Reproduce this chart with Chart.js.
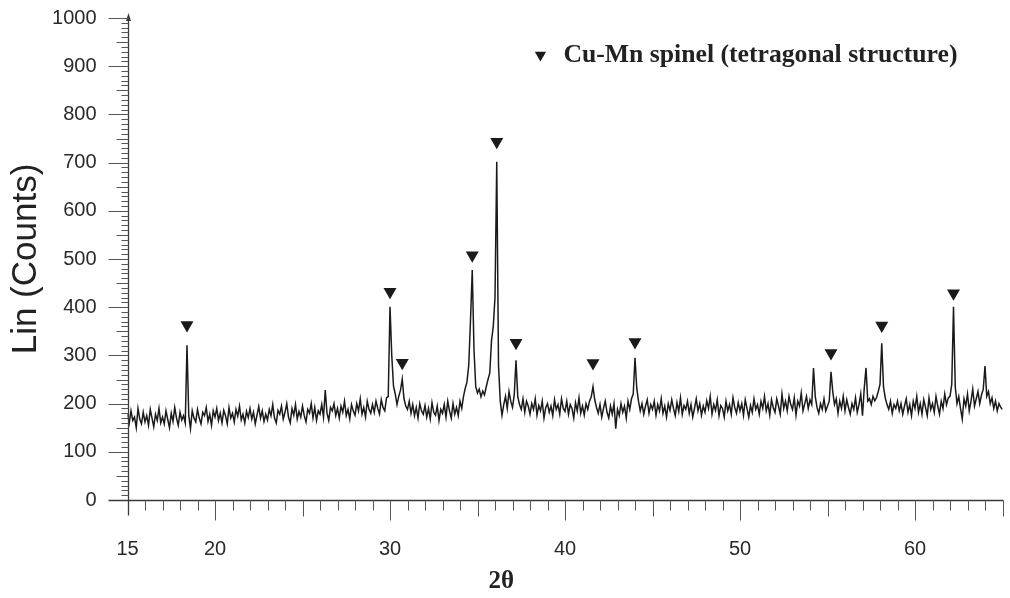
<!DOCTYPE html>
<html>
<head>
<meta charset="utf-8">
<title>XRD pattern</title>
<script src="https://cdn.jsdelivr.net/npm/chart.js@4.4.1/dist/chart.umd.min.js"></script>
<style>
  html, body { margin: 0; padding: 0; background: #fff; }
  #wrap { width: 1010px; height: 598px; }
</style>
</head>
<body>
<div id="wrap"><canvas id="xrd-chart" width="1010" height="598"></canvas></div>
<script>
// 2-theta sampling of the scan (degrees)
var thetaStart = 15;
var thetaStep = 0.1;
var xRange = [15, 65];
var yRange = [0, 1000];
var xTickLabels = [15, 20, 30, 40, 50, 60];

// Lin (Counts), one row per degree
var counts = [
    178, 160, 185, 165, 172, 150, 190, 168, 158, 182,   // 15
    162, 175, 155, 188, 170, 152, 178, 165, 190, 160,   // 16
    172, 158, 185, 167, 150, 180, 163, 192, 170, 155,   // 17
    182, 166, 175, 160, 321, 176, 148, 185, 170, 162,   // 18
    188, 170, 158, 182, 175, 192, 163, 178, 155, 185,   // 19
    172, 190, 165, 180, 160, 186, 175, 158, 192, 170,   // 20
    180, 162, 188, 174, 195, 166, 178, 160, 184, 171,   // 21
    190, 168, 182, 158, 176, 194, 170, 185, 163, 178,   // 22
    166, 188, 175, 198, 170, 160, 186, 178, 195, 168,   // 23
    182, 200, 172, 160, 190, 176, 198, 168, 184, 172,   // 24
    195, 175, 162, 188, 180, 200, 170, 192, 165, 185,   // 25
    178, 198, 172, 228, 180, 165, 192, 185, 200, 175,   // 26
    190, 170, 195, 182, 205, 175, 188, 168, 198, 185,   // 27
    176, 200, 185, 210, 178, 192, 172, 205, 188, 180,   // 28
    198, 182, 205, 190, 178, 208, 192, 185, 212, 215,   // 29
    401, 300, 236, 220, 198, 215, 228, 251, 210, 195,   // 30
    188, 205, 180, 198, 175, 192, 170, 200, 185, 178,   // 31
    196, 172, 190, 168, 202, 182, 176, 195, 165, 188,   // 32
    180, 198, 172, 205, 185, 170, 200, 178, 192, 175,   // 33
    205, 190, 215, 232, 245, 280, 373, 477, 311, 235,   // 34
    222, 230, 214, 226, 218, 235, 250, 263, 330, 360,   // 35
    420, 702, 280, 205, 176, 198, 215, 190, 225, 205,   // 36
    192, 218, 290, 215, 198, 188, 210, 182, 205, 195,   // 37
    178, 200, 188, 210, 176, 196, 185, 205, 170, 192,   // 38
    200, 182, 195, 175, 208, 188, 198, 178, 210, 190,   // 39
    184, 205, 178, 198, 190, 170, 202, 185, 212, 180,   // 40
    195, 176, 200, 188, 205, 214, 235, 208, 192, 180,   // 41
    198, 172, 190, 205, 182, 170, 195, 178, 200, 148,   // 42
    188, 175, 200, 182, 195, 170, 205, 188, 210, 220,   // 43
    295, 232, 205, 185, 200, 178, 195, 208, 180, 198,   // 44
    188, 205, 176, 198, 185, 210, 180, 195, 172, 200,   // 45
    186, 208, 190, 175, 202, 184, 212, 178, 196, 188,   // 46
    205, 180, 198, 172, 190, 210, 185, 200, 176, 195,   // 47
    182, 206, 190, 215, 178, 198, 186, 208, 175, 196,   // 48
    190, 172, 205, 185, 198, 178, 212, 192, 180, 202,   // 49
    185, 200, 176, 208, 190, 172, 196, 182, 210, 188,   // 50
    198, 178, 205, 190, 215, 185, 200, 176, 208, 192,   // 51
    182, 210, 195, 178, 220, 190, 205, 185, 215, 198,   // 52
    188, 212, 176, 205, 195, 222, 185, 200, 215, 190,   // 53
    208, 198, 274, 215, 192, 180, 200, 188, 210, 185,   // 54
    195, 205, 266, 225, 198, 210, 180, 205, 190, 215,   // 55
    185, 208, 192, 178, 200, 188, 212, 182, 198, 220,   // 56
    175, 232, 274, 205, 210, 198, 215, 206, 212, 225,   // 57
    240, 325, 235, 212, 198, 188, 205, 180, 198, 190,   // 58
    205, 185, 200, 178, 195, 210, 182, 198, 175, 205,   // 59
    190, 215, 182, 200, 178, 208, 192, 175, 212, 188,   // 60
    200, 182, 215, 195, 178, 205, 190, 220, 198, 212,   // 61
    215, 240, 401, 235, 200, 215, 190, 168, 210, 195,   // 62
    220, 185, 205, 230, 195, 210, 225, 200, 218, 230,   // 63
    278, 215, 225, 200, 212, 190, 205, 185, 200, 192,   // 64
    188                                                 // 65
];

// Cu-Mn spinel reflections: marker position (2θ) and marker height (counts)
var peakTheta = [18.4, 30.0, 30.7, 34.7, 36.1, 37.2, 41.6, 44.0, 55.2, 58.1, 62.2];
var peakMarkY = [363, 432, 285, 508, 743, 326, 284, 328, 305, 362, 429];

var phaseLabel = 'Cu-Mn spinel (tetragonal structure)';
var xTitle = '2θ';
var yTitle = 'Lin (Counts)';

var INK = '#1a1a1a';
var AXIS = '#3a3a3a';
var SANS = '"Liberation Sans", Arial, sans-serif';
var SERIF = '"Liberation Serif", "Times New Roman", serif';

var scanPoints = counts.map(function (c, i) {
    return { x: +(thetaStart + i * thetaStep).toFixed(1), y: c };
});
var markerPoints = peakTheta.map(function (t, i) { return { x: t, y: peakMarkY[i] }; });

// axis lines, arrow and the dense tick marks of the diffractometer plot
var axisDecor = {
    id: 'axisDecor',
    afterDatasetsDraw: function (chart) {
        var ctx = chart.ctx, xs = chart.scales.x, ys = chart.scales.y;
        var x0 = Math.round(xs.getPixelForValue(xRange[0])) + 0.5;
        var y0 = Math.round(ys.getPixelForValue(yRange[0])) + 0.5;
        var yTop = ys.getPixelForValue(yRange[1]);
        ctx.save();
        ctx.strokeStyle = AXIS;
        ctx.lineWidth = 1.3;
        ctx.beginPath();
        ctx.moveTo(x0 - 20, y0); ctx.lineTo(xs.right + 1, y0);
        ctx.moveTo(x0, y0 + 15); ctx.lineTo(x0, yTop - 2);
        ctx.stroke();
        ctx.fillStyle = AXIS;
        ctx.beginPath();
        ctx.moveTo(x0, yTop - 5); ctx.lineTo(x0 - 2.5, yTop + 3); ctx.lineTo(x0 + 2.5, yTop + 3);
        ctx.closePath(); ctx.fill();

        ctx.lineWidth = 1;
        ctx.strokeStyle = '#555';
        ctx.beginPath();
        for (var t = xRange[0] + 1; t <= xRange[1]; t++) {
            var len = t % 10 === 0 ? 20 : (t % 5 === 0 ? 16 : 10);
            var px = Math.round(xs.getPixelForValue(t)) + 0.5;
            ctx.moveTo(px, y0); ctx.lineTo(px, y0 + len);
        }
        for (var v = yRange[0] + 10; v <= yRange[1]; v += 10) {
            var l = v % 100 === 0 ? 20 : (v % 50 === 0 ? 12 : 7);
            var py = Math.round(ys.getPixelForValue(v)) + 0.5;
            ctx.moveTo(x0 - l, py); ctx.lineTo(x0, py);
        }
        ctx.stroke();
        ctx.restore();
    }
};

// phase key in the upper right of the plot
var phaseKey = {
    id: 'phaseKey',
    afterDraw: function (chart) {
        var ctx = chart.ctx, area = chart.chartArea;
        var textRight = area.right - 45;
        var yMid = area.top + 37;
        ctx.save();
        ctx.font = 'bold 25.7px ' + SERIF;
        ctx.fillStyle = '#222';
        ctx.textAlign = 'right';
        ctx.textBaseline = 'middle';
        ctx.fillText(phaseLabel, textRight, yMid);
        var w = ctx.measureText(phaseLabel).width;
        ctx.fillStyle = INK;
        Chart.helpers.drawPoint(ctx, { pointStyle: 'triangle', rotation: 180, radius: 6.5, borderWidth: 0 }, textRight - w - 23, yMid);
        ctx.restore();
    }
};

new Chart(document.getElementById('xrd-chart'), {
    type: 'scatter',
    data: {
        datasets: [{
            label: 'scan',
            data: scanPoints,
            showLine: true,
            borderColor: INK,
            borderWidth: 1.5,
            pointRadius: 0,
            tension: 0
        }, {
            label: phaseLabel,
            data: markerPoints,
            showLine: false,
            pointStyle: 'triangle',
            pointRotation: 180,
            pointRadius: 7.5,
            backgroundColor: INK,
            borderWidth: 0
        }]
    },
    options: {
        responsive: false,
        devicePixelRatio: 1,
        animation: false,
        events: [],
        layout: { padding: { top: 18, right: 7.5, left: 0, bottom: 0 } },
        plugins: {
            legend: { display: false },
            tooltip: { enabled: false },
            title: {
                display: true,
                position: 'bottom',
                text: xTitle,
                color: '#222',
                font: { family: SERIF, size: 25, weight: 'bold' },
                padding: { top: 0, bottom: 1 }
            }
        },
        scales: {
            x: {
                type: 'linear',
                min: xRange[0],
                max: xRange[1],
                grid: { display: false },
                border: { display: false },
                afterBuildTicks: function (scale) {
                    scale.ticks = xTickLabels.map(function (v) { return { value: v }; });
                },
                afterFit: function (scale) { scale.height = 67; },
                ticks: {
                    color: '#2a2a2a',
                    font: { family: SANS, size: 20 },
                    padding: 29,
                    maxRotation: 0,
                    callback: function (v) { return String(v); }
                }
            },
            y: {
                min: yRange[0],
                max: yRange[1],
                grid: { display: false },
                border: { display: false },
                afterFit: function (scale) {
                    scale.width = 127.5;
                    scale.paddingTop = 0;
                    scale.paddingBottom = 0;
                },
                ticks: {
                    stepSize: 100,
                    color: '#2a2a2a',
                    font: { family: SANS, size: 20 },
                    padding: 23,
                    callback: function (v) { return String(v); }
                },
                title: {
                    display: true,
                    text: yTitle,
                    color: '#222',
                    font: { family: SANS, size: 35 },
                    padding: { top: 5, bottom: 0 }
                }
            }
        }
    },
    plugins: [axisDecor, phaseKey]
});
</script>
</body>
</html>
